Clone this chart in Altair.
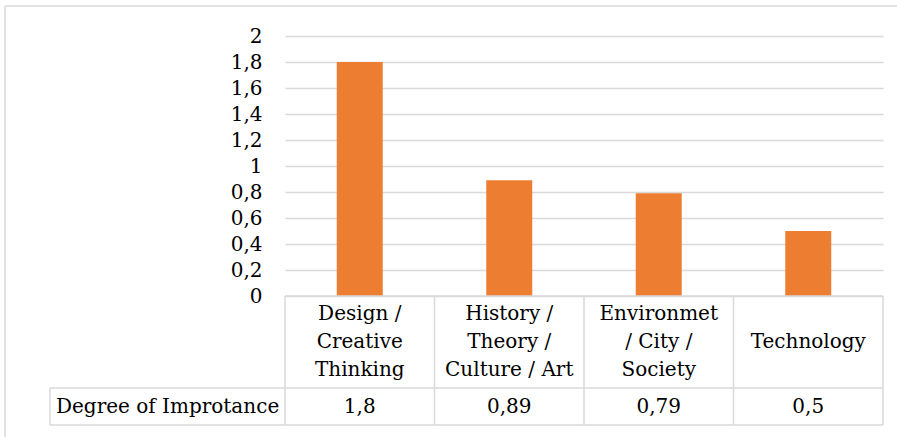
import altair as alt
import pandas as pd

# Categories (multi-line labels), importance values
categories = ["Design /\nCreative\nThinking",
              "History /\nTheory /\nCulture / Art",
              "Environmet\n/ City /\nSociety",
              "Technology"]
values = [1.8, 0.89, 0.79, 0.5]
row_label = "Degree of Improtance"
y_ticks = [0, 0.2, 0.4, 0.6, 0.8, 1, 1.2, 1.4, 1.6, 1.8, 2]

FONT = "DejaVu Serif"
FS = 20
GRID = "#d9d9d9"
BAR = "#ED7D31"
W, H = 598, 260
LH = 28

df = pd.DataFrame({
    "cat": categories,
    "value": values,
    "vlabel": [str(v).replace(".", ",") for v in values],
})

x_enc = alt.X("cat:N", sort=categories, axis=None,
              scale=alt.Scale(paddingInner=0, paddingOuter=0))

base = alt.Chart(df)

bars = base.mark_bar(size=46, color=BAR).encode(
    x=x_enc,
    y=alt.Y("value:Q",
            scale=alt.Scale(domain=[0, 2], nice=False),
            axis=alt.Axis(values=y_ticks, title=None, domain=False, ticks=False,
                          labelExpr="replace(toString(datum.value), '.', ',')",
                          labelFont=FONT, labelFontSize=FS, labelColor="#000000",
                          labelPadding=23, gridColor=GRID, gridWidth=1.5)),
)

# data table: category row (three-line and one-line labels, centred in the row)
cat_multi = base.transform_filter("indexof(datum.cat, '\\n') >= 0").mark_text(
    font=FONT, fontSize=FS, lineBreak="\n", lineHeight=LH,
    baseline="middle", color="#000000").encode(
    x=x_enc, y=alt.value(306 - LH), text="cat:N")

cat_single = base.transform_filter("indexof(datum.cat, '\\n') < 0").mark_text(
    font=FONT, fontSize=FS, baseline="middle", color="#000000").encode(
    x=x_enc, y=alt.value(306), text="cat:N")

val_text = base.mark_text(font=FONT, fontSize=FS, baseline="middle",
                          color="#000000").encode(
    x=x_enc, y=alt.value(371), text="vlabel:N")

row_text = alt.Chart(pd.DataFrame({"t": [row_label]})).mark_text(
    font=FONT, fontSize=FS, baseline="middle", align="left", color="#000000").encode(
    x=alt.value(-229), y=alt.value(371), text="t:N")

# vertical table lines at category boundaries
vlines = base.mark_rule(color=GRID, strokeWidth=1.5).encode(
    x=alt.X("cat:N", sort=categories, bandPosition=0, axis=None),
    y=alt.value(H), y2=alt.value(389))

def rule(x1, x2, y1, y2):
    return alt.Chart(pd.DataFrame({"k": [0]})).mark_rule(
        color=GRID, strokeWidth=1.5).encode(
        x=alt.value(x1), x2=alt.value(x2), y=alt.value(y1), y2=alt.value(y2))

frame = [
    rule(W, W, H, 389),          # right edge of table
    rule(0, W, H, H),            # axis line / table top
    rule(-235, W, 352, 352),     # value row top
    rule(-235, W, 389, 389),     # value row bottom
    rule(-235, -235, 352, 389),  # value row left edge
    rule(-280, 620, -30, -30),   # chart border top
    rule(-280, -280, -30, 410),  # chart border left
]

chart = alt.layer(bars, cat_multi, cat_single, val_text, row_text, vlines, *frame).properties(
    width=W, height=H,
    autosize=alt.AutoSizeParams(type="none"),
    padding={"left": 285, "top": 36, "right": 14, "bottom": 141},
    background="#ffffff",
).configure_view(stroke=None)

chart.save("out.html", embed_options={"renderer": "svg", "actions": False})
